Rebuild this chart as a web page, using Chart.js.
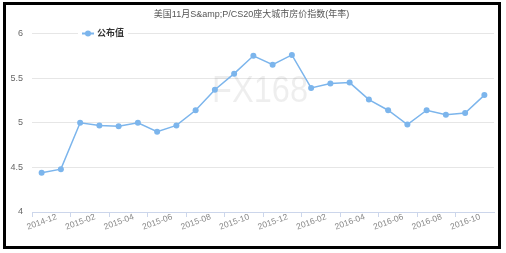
<!DOCTYPE html>
<html>
<head>
<meta charset="utf-8">
<script src="https://cdn.jsdelivr.net/npm/chart.js@4/dist/chart.umd.min.js"></script>
<style>
  html, body { margin: 0; padding: 0; background: #fff; }
  #frame { position: absolute; left: 3px; top: 2px; width: 492px; height: 241px; border: 3px solid #000; background: #fff; }
  #wrap { position: relative; width: 492px; height: 241px; }
</style>
</head>
<body>
<div id="frame"><div id="wrap"><canvas id="c"></canvas></div></div>
<script>
const categories = ['2014-12','2015-01','2015-02','2015-03','2015-04','2015-05','2015-06','2015-07','2015-08','2015-09','2015-10','2015-11','2015-12','2016-01','2016-02','2016-03','2016-04','2016-05','2016-06','2016-07','2016-08','2016-09','2016-10','2016-11'];
const publishedValues = [4.44, 4.48, 5.00, 4.97, 4.96, 5.00, 4.90, 4.97, 5.14, 5.37, 5.55, 5.75, 5.65, 5.76, 5.39, 5.44, 5.45, 5.26, 5.14, 4.98, 5.14, 5.09, 5.11, 5.31];
const seriesName = '公布值';
const chartTitle = '美国11月S&amp;P/CS20座大城市房价指数(年率)';
const watermarkText = 'FX168';
const yTicks = [4, 4.5, 5, 5.5, 6];

const FONT = "'Liberation Sans', 'Noto Sans CJK SC', sans-serif";
const LINE_COLOR = '#7cb5ec';

const watermark = {
  id: 'watermark',
  beforeDatasetsDraw(chart) {
    const {ctx} = chart;
    ctx.save();
    ctx.font = '36px ' + FONT;
    const w = ctx.measureText(watermarkText).width;
    ctx.translate(254, 87);
    ctx.scale(96 / w, 1);
    ctx.fillStyle = 'rgba(0,0,0,0.065)';
    ctx.textAlign = 'center';
    ctx.textBaseline = 'middle';
    ctx.fillText(watermarkText, 0, 0);
    ctx.restore();
  }
};

const topLegend = {
  id: 'topLegend',
  afterDraw(chart) {
    const {ctx} = chart;
    const ds = chart.data.datasets[0];
    const y = chart.scales.y.getPixelForValue(6);
    ctx.save();
    ctx.fillStyle = '#fff';
    ctx.fillRect(72, y - 6, 50, 12);
    ctx.strokeStyle = ds.borderColor;
    ctx.lineWidth = 2;
    ctx.beginPath();
    ctx.moveTo(76, y); ctx.lineTo(88, y);
    ctx.stroke();
    ctx.fillStyle = ds.backgroundColor;
    ctx.beginPath();
    ctx.arc(82, y, 3, 0, Math.PI * 2);
    ctx.fill();
    ctx.fillStyle = '#333';
    ctx.font = 'bold 9px ' + FONT;
    ctx.textBaseline = 'middle';
    ctx.textAlign = 'left';
    ctx.fillText(ds.label, 91, y + 0.5);
    ctx.restore();
  }
};

new Chart(document.getElementById('c'), {
  type: 'line',
  data: {
    labels: categories,
    datasets: [{
      label: seriesName,
      data: publishedValues,
      borderColor: LINE_COLOR,
      backgroundColor: LINE_COLOR,
      borderWidth: 1.5,
      pointRadius: 3,
      pointBackgroundColor: LINE_COLOR,
      pointBorderWidth: 0,
      tension: 0,
      fill: false
    }]
  },
  options: {
    responsive: true,
    maintainAspectRatio: false,
    animation: false,
    events: [],
    layout: { padding: { left: 0, right: 1, top: 0, bottom: 0 } },
    plugins: {
      legend: { display: false },
      tooltip: { enabled: false },
      title: {
        display: true,
        text: chartTitle,
        color: '#555',
        font: { family: FONT, size: 9, weight: 'normal' },
        padding: { top: 4.6, bottom: 13.1 }
      }
    },
    scales: {
      x: {
        type: 'category',
        offset: true,
        afterFit(s) { s.height = 34; },
        border: { display: true, color: '#ccd6eb', width: 1 },
        grid: {
          offset: true,
          drawOnChartArea: false,
          drawTicks: true,
          tickLength: 5,
          tickColor: (ctx) => (ctx.index % 2 === 0 ? '#ccd6eb' : 'rgba(0,0,0,0)')
        },
        ticks: {
          autoSkip: false,
          maxRotation: 20,
          minRotation: 20,
          labelOffset: 15,
          padding: -5,
          color: '#888',
          font: { family: FONT, size: 8.5 },
          callback(v, i) { return i % 2 === 0 ? categories[i] : ''; }
        }
      },
      y: {
        min: 4,
        max: 6,
        afterFit(s) { s.width = 26; },
        afterBuildTicks(s) { s.ticks = yTicks.map(v => ({ value: v })); },
        border: { display: false },
        grid: { color: '#e6e6e6', lineWidth: 1, drawTicks: false },
        ticks: {
          padding: 9,
          color: '#666',
          font: { family: FONT, size: 9 },
          callback(v) { return String(v); }
        }
      }
    }
  },
  plugins: [watermark, topLegend]
});
</script>
</body>
</html>
